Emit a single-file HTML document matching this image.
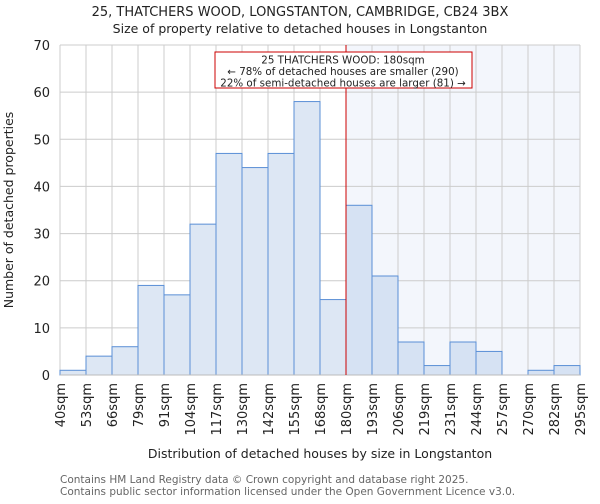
<!DOCTYPE html>
<html><head><meta charset="utf-8"><style>
body{margin:0;background:#fff;font-family:"DejaVu Sans","Liberation Sans",sans-serif;}
svg text{font-family:"DejaVu Sans","Liberation Sans",sans-serif;}
</style></head><body>
<svg id="c" width="600" height="500" xmlns="http://www.w3.org/2000/svg">
<text x="300" y="16" text-anchor="middle" font-size="13" fill="#222">25, THATCHERS WOOD, LONGSTANTON, CAMBRIDGE, CB24 3BX</text>
<text x="300" y="33" text-anchor="middle" font-size="12.5" fill="#222">Size of property relative to detached houses in Longstanton</text>
<g id="plot"></g>
<text transform="translate(13,210) rotate(-90)" text-anchor="middle" font-size="12.5" fill="#222">Number of detached properties</text>
<text x="320" y="458" text-anchor="middle" font-size="12.5" fill="#222">Distribution of detached houses by size in Longstanton</text>
<text x="60" y="483" font-size="10.5" fill="#666">Contains HM Land Registry data © Crown copyright and database right 2025.</text>
<text x="60" y="495" font-size="10.5" fill="#666">Contains public sector information licensed under the Open Government Licence v3.0.</text>
</svg>
<script>
const labels=["40sqm","53sqm","66sqm","79sqm","91sqm","104sqm","117sqm","130sqm","142sqm","155sqm","168sqm","180sqm","193sqm","206sqm","219sqm","231sqm","244sqm","257sqm","270sqm","282sqm","295sqm"];
const counts=[1,4,6,19,17,32,47,44,47,58,16,36,21,7,2,7,5,0,1,2];
const yTicks=[0,10,20,30,40,50,60,70];
const markerIndex=11;
const NS="http://www.w3.org/2000/svg";
const L=60,R=580,T=45,B=375,YMAX=70;
const bw=(R-L)/counts.length;
const xs=i=>L+i*bw;
const ys=v=>B-(v/YMAX)*(B-T);
const g=document.getElementById('plot');
function mk(t,a){const e=document.createElementNS(NS,t);for(const k in a)e.setAttribute(k,a[k]);g.appendChild(e);return e;}
let e=mk('rect',{x:xs(markerIndex),y:T,width:R-xs(markerIndex),height:B-T,fill:'#f3f6fc'});


for(const t of yTicks){
 e=mk('line',{x1:L,x2:R,y1:ys(t),y2:ys(t),stroke:'#ccc','stroke-width':1});
 
 
 e=mk('text',{x:L-10,y:ys(t)+5,'text-anchor':'end','font-size':13,fill:'#222'});
 e.textContent=t;
 
 
}
for(let i=0;i<labels.length;i++){
 e=mk('line',{x1:xs(i),x2:xs(i),y1:T,y2:B,stroke:'#ccc','stroke-width':1});
 
 
 e=mk('text',{transform:`translate(${xs(i)+5},${B+8}) rotate(-90)`,'text-anchor':'end','font-size':13,fill:'#222'});
 e.textContent=labels[i];
 
 
}
for(let i=0;i<counts.length;i++){
 if(counts[i]<=0)continue;
 e=mk('rect',{x:xs(i),y:ys(counts[i]),width:bw,height:B-ys(counts[i]),fill:i>=markerIndex?'#d6e2f3':'#dde7f4',stroke:'#5a8fd6','stroke-width':1});
 
 
}
e=mk('line',{x1:L,x2:R,y1:B,y2:B,stroke:'#bbb','stroke-width':1});


e=mk('line',{x1:xs(markerIndex),x2:xs(markerIndex),y1:T,y2:B,stroke:'#c00','stroke-width':1});


e=mk('rect',{x:215,y:52,width:257,height:36,fill:'#fff',stroke:'#c00','stroke-width':1});


const ann=["25 THATCHERS WOOD: 180sqm","← 78% of detached houses are smaller (290)","22% of semi-detached houses are larger (81) →"];
ann.forEach((s,k)=>{e=mk('text',{x:343,y:63.5+k*11.5,'text-anchor':'middle','font-size':10.3,fill:'#222'});e.textContent=s;
 
 });
</script>
</body></html>
